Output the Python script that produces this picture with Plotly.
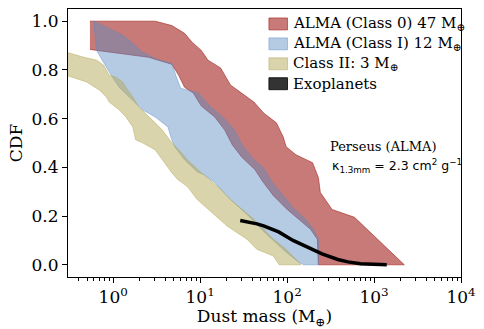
import plotly.graph_objects as go

# ---------------- data (dust mass in Earth masses, CDF) ----------------
red_upper_x = [0.54, 3.04, 4.72, 6.61, 8.13, 10.3, 12.3, 17.2, 22.3, 28.9, 41.5, 53.7, 75.2, 90.2, 97.4, 126, 196, 229, 241, 329, 596, 2230]
red_upper_y = [1.0, 1.0, 0.982, 0.950, 0.913, 0.880, 0.840, 0.808, 0.738, 0.709, 0.668, 0.623, 0.583, 0.525, 0.485, 0.452, 0.419, 0.358, 0.297, 0.227, 0.195, 0.0]
red_lower_x = [0.54, 2.54, 4.72, 5.66, 6.61, 8.35, 10.3, 14.7, 19.1, 23.5, 30.4, 42.6, 52.4, 69.6, 97.4, 136, 186, 223, 229]
red_lower_y = [0.884, 0.852, 0.823, 0.778, 0.729, 0.705, 0.652, 0.607, 0.554, 0.492, 0.440, 0.391, 0.342, 0.284, 0.231, 0.187, 0.146, 0.105, 0.0]

blue_upper_x = [0.596, 0.90, 1.29, 1.68, 2.17, 3.37, 4.72, 5.24, 5.96, 9.5, 12.9, 18.1, 24.7, 30.4, 39.4, 55.2, 66.1, 90.2, 120, 163, 201, 229, 229]
blue_upper_y = [1.0, 0.970, 0.942, 0.909, 0.872, 0.840, 0.827, 0.778, 0.725, 0.705, 0.652, 0.607, 0.554, 0.492, 0.440, 0.391, 0.342, 0.284, 0.231, 0.187, 0.146, 0.105, 0.0]
blue_lower_x = [0.596, 0.644, 0.90, 1.17, 1.68, 2.17, 3.04, 4.26, 4.72, 5.10, 6.61, 9.25, 11.1, 14.7, 22.3, 34.6, 58.1, 97.4, 136, 155]
blue_lower_y = [1.0, 0.880, 0.791, 0.729, 0.676, 0.636, 0.607, 0.566, 0.513, 0.485, 0.431, 0.382, 0.370, 0.338, 0.268, 0.207, 0.125, 0.052, 0.011, 0.0]

yellow_upper_x = [0.2, 0.254, 0.312, 0.46, 0.644, 0.773, 0.90, 1.08, 1.29, 1.40, 1.68, 1.96, 2.35, 2.81, 3.65, 4.72, 6.12, 7.14, 10.3, 15.9, 22.3, 41.5, 69.6, 97.4, 136, 144]
yellow_upper_y = [0.89, 0.878, 0.869, 0.852, 0.840, 0.820, 0.778, 0.770, 0.750, 0.729, 0.689, 0.648, 0.623, 0.595, 0.554, 0.501, 0.460, 0.431, 0.378, 0.321, 0.268, 0.187, 0.105, 0.064, 0.011, 0.0]
yellow_lower_x = [0.2, 0.254, 0.312, 0.497, 0.696, 0.834, 0.90, 1.17, 1.40, 1.68, 1.81, 2.17, 3.04, 3.65, 4.72, 5.52, 7.14, 9.25, 12.3, 20.6, 34.6, 44.8, 69.6, 81.3]
yellow_lower_y = [0.785, 0.778, 0.774, 0.750, 0.717, 0.689, 0.668, 0.636, 0.607, 0.566, 0.513, 0.501, 0.472, 0.431, 0.378, 0.350, 0.321, 0.268, 0.227, 0.158, 0.105, 0.064, 0.036, 0.0]

exo_x = [28.9, 35, 45, 53.7, 80, 117, 180, 252, 383, 500, 700, 1000, 1400]
exo_y = [0.182, 0.177, 0.168, 0.160, 0.135, 0.100, 0.068, 0.045, 0.022, 0.012, 0.004, 0.001, 0.0]

names = ["ALMA (Class 0) 47 M<sub>⊕</sub>", "ALMA (Class I) 12 M<sub>⊕</sub>", "Class II: 3 M<sub>⊕</sub>", "Exoplanets"]
colors = ["rgba(165,40,35,0.62)", "rgba(90,140,195,0.45)", "rgba(180,170,90,0.5)", "rgba(0,0,0,0.8)"]

x_tickvals = [1, 10, 100, 1000, 10000]
x_ticktext = ["10<sup>0</sup>", "10<sup>1</sup>", "10<sup>2</sup>", "10<sup>3</sup>", "10<sup>4</sup>"]
y_tickvals = [0.0, 0.2, 0.4, 0.6, 0.8, 1.0]
y_ticktext = ["0.0", "0.2", "0.4", "0.6", "0.8", "1.0"]

# ---------------- figure ----------------
SERIF = "DejaVu Serif"
W, H = 484, 329
ML, MR, MT, MB = 68, 15, 8, 52
PW, PH = W - ML - MR, H - MT - MB
fig = go.Figure()

def band(ux, uy, lx, ly, color, name):
    xs = list(ux) + list(reversed(lx))
    ys = list(uy) + list(reversed(ly))
    fig.add_trace(go.Scatter(x=xs, y=ys, fill="toself", fillcolor=color,
                             mode="lines", line=dict(color=color, width=1),
                             name=name, showlegend=False, hoverinfo="skip"))

band(red_upper_x, red_upper_y, red_lower_x, red_lower_y, colors[0], names[0])
band(blue_upper_x, blue_upper_y, blue_lower_x, blue_lower_y, colors[1], names[1])
band(yellow_upper_x, yellow_upper_y, yellow_lower_x, yellow_lower_y, colors[2], names[2])

fig.add_trace(go.Scatter(x=exo_x, y=exo_y, mode="lines", line=dict(color="black", width=3.5),
                         name=names[3], showlegend=False, hoverinfo="skip"))

# legend drawn as patches + labels (pixel layout converted to paper coords)
def px2paper(px, py):
    return (px - ML) / PW, (H - MB - py) / PH

for i, (nm, col) in enumerate(zip(names, colors)):
    yc = 23 + 20 * i
    x0, y0 = px2paper(273, yc + 6)
    x1, y1 = px2paper(292, yc - 6)
    fig.add_shape(type="rect", xref="paper", yref="paper", x0=x0, x1=x1, y0=y0, y1=y1,
                  fillcolor=col, line=dict(color=col, width=1))
    tx, ty = px2paper(296, yc)
    fig.add_annotation(text=nm, xref="paper", yref="paper", x=tx, y=ty,
                       xanchor="left", yanchor="middle", showarrow=False,
                       font=dict(family=SERIF, size=15))

fig.update_layout(
    width=W, height=H,
    margin=dict(l=ML, r=MR, t=MT, b=MB),
    paper_bgcolor="white", plot_bgcolor="white",
    font=dict(family=SERIF, size=17, color="black"),
    showlegend=False,
)
fig.update_xaxes(type="log", range=[-0.52, 4], showgrid=False, zeroline=False,
                 showline=True, linecolor="black", linewidth=1, mirror=True,
                 ticks="outside", ticklen=5, tickcolor="black",
                 tickvals=x_tickvals, ticktext=x_ticktext, tickfont=dict(family=SERIF, size=17),
                 minor=dict(ticks="outside", ticklen=3, tickcolor="black", dtick="D1"),
                 title=dict(text="Dust mass (M<sub>⊕</sub>)", font=dict(family=SERIF, size=17), standoff=0))
fig.update_yaxes(range=[-0.05, 1.05], showgrid=False, zeroline=False,
                 showline=True, linecolor="black", linewidth=1, mirror=True,
                 ticks="outside", ticklen=5, tickcolor="black",
                 tickvals=y_tickvals, ticktext=y_ticktext, tickfont=dict(family=SERIF, size=17),
                 title=dict(text="CDF", font=dict(family=SERIF, size=17), standoff=4))

ax, ay = px2paper(333, 146)
fig.add_annotation(text="Perseus (ALMA)", xref="paper", yref="paper", x=ax, y=ay,
                   xanchor="left", yanchor="middle", showarrow=False,
                   font=dict(family=SERIF, size=13))
kx, ky = px2paper(335, 166)
fig.add_annotation(text="κ<sub>1.3mm</sub> = 2.3 cm<sup>2</sup> g<sup>−1</sup>", xref="paper", yref="paper",
                   x=kx, y=ky, xanchor="left", yanchor="middle", showarrow=False,
                   font=dict(family="DejaVu Sans", size=12.5))

fig.write_html("out.html")
